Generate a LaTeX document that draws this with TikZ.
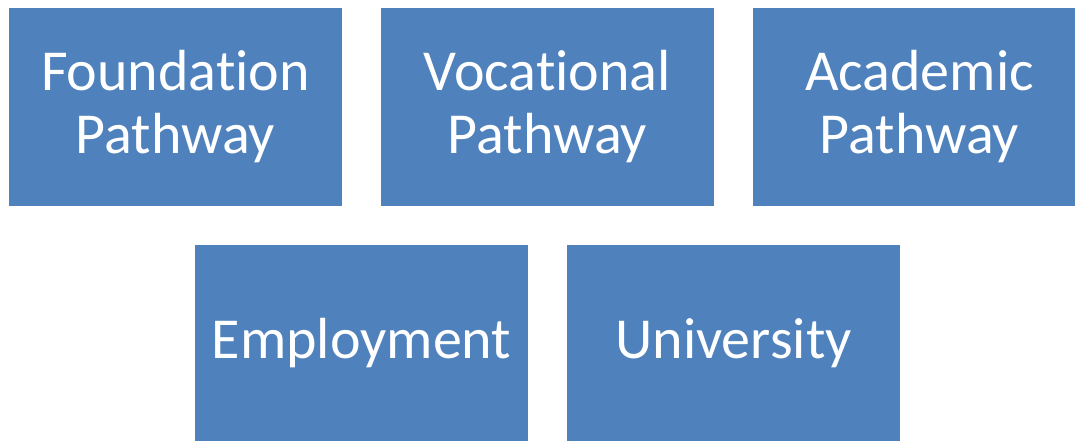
\documentclass[tikz,border=0pt]{standalone}
\usepackage{fontspec}
\setmainfont[Ligatures={NoCommon}]{Carlito}
\definecolor{boxblue}{HTML}{4F81BD}
\tikzset{pbox/.style={fill=boxblue, draw=none, minimum width=333pt, minimum height=198pt, inner sep=0pt, align=center, text=white, font=\fontsize{58pt}{63pt}\selectfont}}
\begin{document}
\begin{tikzpicture}[x=1pt,y=-1pt]
\useasboundingbox (0,0) rectangle (1075,440);
\clip (0,0) rectangle (1075,440);
\node[pbox] (found) at (175.5,106.5) {Foundation\\Pathway};
\node[pbox] (voc) at (547.5,106.5) {Vocational\\Pathway};
\node[pbox] (acad) at (919.5,106.5) {Academic\\Pathway};
\node[pbox] (emp) at (361.5,343.5) {Employment};
\node[pbox] (uni) at (733.5,343.5) {University};
\end{tikzpicture}
\end{document}
